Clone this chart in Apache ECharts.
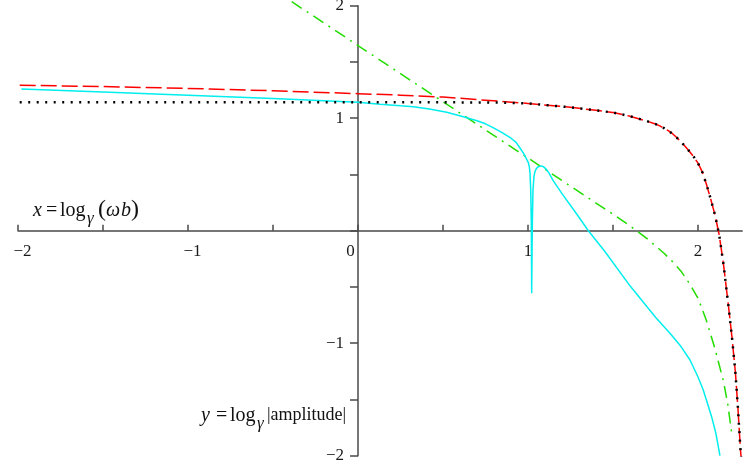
<!DOCTYPE html>
<html>
<head>
<meta charset="utf-8">
<script src="https://cdn.jsdelivr.net/npm/echarts@6/dist/echarts.min.js"></script>
<style>
  html, body { margin: 0; padding: 0; background: #ffffff; }
  #chart { width: 744px; height: 473px; }
</style>
</head>
<body>
<div id="chart"></div>
<script>
// Asymptotic approximation (red, dashed)
const redX = [-1.99, -1.5, -1, -0.5, 0, 0.25, 0.5, 0.75, 1.0, 1.25, 1.4, 1.5, 1.6, 1.7, 1.75, 1.775, 1.8, 1.825, 1.85, 1.875, 1.9, 1.925, 1.95, 1.975, 2.0, 2.025, 2.05, 2.075, 2.1, 2.125, 2.15, 2.18, 2.2, 2.22, 2.235, 2.25, 2.256];
const redY = [1.293, 1.281, 1.265, 1.244, 1.218, 1.205, 1.188, 1.16, 1.131, 1.097, 1.07, 1.05, 1.018, 0.974, 0.948, 0.932, 0.912, 0.889, 0.862, 0.828, 0.79, 0.749, 0.704, 0.657, 0.60, 0.523, 0.41, 0.28, 0.14, -0.04, -0.30, -0.68, -0.95, -1.26, -1.58, -1.95, -2.05];

// Exact envelope (black, dotted)
const blackX = [-1.99, -1, 0, 0.5, 0.75, 0.85, 0.95, 1.0, 1.25, 1.4, 1.5, 1.6, 1.7, 1.75, 1.775, 1.8, 1.825, 1.85, 1.875, 1.9, 1.925, 1.95, 1.975, 2.0, 2.025, 2.05, 2.075, 2.1, 2.125, 2.15, 2.18, 2.2, 2.22, 2.235, 2.25, 2.256];
const blackY = [1.141, 1.141, 1.141, 1.141, 1.140, 1.138, 1.134, 1.131, 1.097, 1.07, 1.05, 1.018, 0.974, 0.948, 0.932, 0.912, 0.889, 0.862, 0.828, 0.79, 0.749, 0.704, 0.657, 0.60, 0.523, 0.41, 0.28, 0.14, -0.04, -0.30, -0.68, -0.95, -1.26, -1.58, -1.95, -2.05];

// Low-frequency slope (green, dash-dot)
const greenX = [-0.39, 0, 0.5, 1.0, 1.5, 1.6, 1.7, 1.8, 1.85, 1.9, 1.95, 2.0, 2.05, 2.1, 2.15, 2.175, 2.2];
const greenY = [2.036, 1.646, 1.146, 0.646, 0.146, 0.043, -0.07, -0.2, -0.275, -0.36, -0.47, -0.6, -0.8, -1.05, -1.34, -1.54, -1.82];

// Measured response (cyan, solid)
const cyanX = [-1.98, -1.5, -1, -0.5, 0, 0.129, 0.25, 0.325, 0.42, 0.522, 0.62, 0.7, 0.75, 0.8, 0.85, 0.9, 0.93, 0.953, 0.973, 0.982, 1.002, 1.008, 1.012, 1.016, 1.0196, 1.0216, 1.0255, 1.0294, 1.035, 1.041, 1.047, 1.057, 1.067, 1.078, 1.09, 1.105, 1.12, 1.15, 1.2, 1.3, 1.355, 1.45, 1.6, 1.75, 1.835, 1.9, 1.953, 2.0, 2.031, 2.08, 2.105, 2.129];
const cyanY = [1.26, 1.232, 1.204, 1.175, 1.142, 1.124, 1.11, 1.102, 1.082, 1.052, 1.013, 0.978, 0.95, 0.912, 0.87, 0.822, 0.785, 0.735, 0.69, 0.665, 0.605, 0.565, 0.51, 0.362, 0.066, -0.557, 0.066, 0.362, 0.48, 0.525, 0.546, 0.566, 0.575, 0.576, 0.569, 0.55, 0.52, 0.44, 0.33, 0.12, 0.0, -0.18, -0.49, -0.77, -0.912, -1.03, -1.149, -1.30, -1.416, -1.653, -1.80, -2.0];

// Axis ticks and labels
const xTickValues = [-2, -1.5, -1, -0.5, 0, 0.5, 1, 1.5, 2];
const xLabelValues = [-2, -1, 0, 1, 2];
const yTickValues = [-2, -1.5, -1, -0.5, 0, 0.5, 1, 1.5, 2];
const yLabelValues = [-2, -1, 1, 2];

const serif = '"Liberation Serif", "Times New Roman", serif';
const axisColor = '#4a4a4a';
const labelColor = '#1a1a1a';
const pair = (xs, ys) => xs.map((x, i) => [x, ys[i]]);
const fmt = v => (v < 0 ? '\u2212' + Math.abs(v) : String(v));

const chart = echarts.init(document.getElementById('chart'), null, { renderer: 'canvas' });

function piece(text, left, y, size, italic) {
  return {
    type: 'text', left: left, top: y, silent: true,
    style: {
      text: text, fill: '#111', font: (italic ? 'italic ' : '') + size + 'px ' + serif
    }
  };
}

chart.setOption({
  animation: false,
  backgroundColor: '#ffffff',
  grid: { left: 18, right: 1.8, top: 5.7, bottom: 17.3, containLabel: false, outerBoundsMode: 'none' },
  xAxis: {
    type: 'value', min: -2, max: 2.26, offset: 0,
    axisLine: { onZero: false, lineStyle: { color: axisColor, width: 1.5 } },
    axisTick: { inside: true, length: 6, customValues: xTickValues, lineStyle: { color: axisColor, width: 1.5 } },
    splitLine: { show: false },
    axisLabel: {
      customValues: xLabelValues, margin: 12, hideOverlap: false,
      fontFamily: serif, fontSize: 17, color: labelColor,
      formatter: v => v < 0 ? '{n|' + fmt(v) + '}' : (v === 0 ? '{z|0}' : String(v)),
      rich: {
        n: { fontFamily: serif, fontSize: 17, color: labelColor, padding: [0, 0, 0, 9] },
        z: { fontFamily: serif, fontSize: 17, color: labelColor, padding: [0, 15, 0, 0] }
      }
    }
  },
  yAxis: {
    type: 'value', min: -2, max: 2, offset: 0,
    axisLine: { onZero: false, lineStyle: { color: axisColor, width: 1.5 } },
    axisTick: { inside: false, length: 8, customValues: yTickValues, lineStyle: { color: axisColor, width: 1.5 } },
    splitLine: { show: false },
    axisLabel: {
      customValues: yLabelValues, margin: 14, hideOverlap: false,
      fontFamily: serif, fontSize: 17, color: labelColor,
      formatter: fmt
    }
  },
  series: [
    {
      type: 'line', data: pair(redX, redY), symbol: 'none', smooth: false,
      lineStyle: { color: '#ff0000', width: 1.5, type: [16, 5] }, z: 2
    },
    {
      type: 'line', data: pair(greenX, greenY), symbol: 'none', smooth: false, clip: false,
      lineStyle: { color: '#22dd00', width: 1.5, type: [12, 6, 2, 6] }, z: 2
    },
    {
      type: 'line', data: pair(cyanX, cyanY), symbol: 'none', smooth: false,
      lineStyle: { color: '#00eeee', width: 1.5 }, z: 3
    },
    {
      type: 'line', data: pair(blackX, blackY), symbol: 'none', smooth: false,
      lineStyle: { color: '#000000', width: 2.5, type: [2, 6.5] }, z: 4
    }
  ],
  graphic: [
    // x = log_γ(ω b)
    piece('x', 33, 201, 20, true),
    piece('=', 46, 201, 20, false),
    piece('log', 60, 201, 20, false),
    piece('\u03B3', 87, 210, 17, true),
    piece('(', 98, 198, 24, false),
    piece('\u03C9', 106, 201, 20, true),
    piece('b', 121, 201, 20, true),
    piece(')', 131, 198, 24, false),
    // y = log_γ|amplitude|
    piece('y', 201, 406, 20, true),
    piece('=', 216, 406, 20, false),
    piece('log', 230, 406, 20, false),
    piece('\u03B3', 257, 415, 17, true),
    piece('|amplitude|', 267, 406, 18, false)
  ]
});

// Move both axes so they cross at the origin, using the grid's own scale.
const origin = chart.convertToPixel({ gridIndex: 0 }, [0, 0]);
const corner = chart.convertToPixel({ gridIndex: 0 }, [-2, -2]);
chart.setOption({
  xAxis: { offset: -(corner[1] - origin[1]) },
  yAxis: { offset: -(origin[0] - corner[0]) }
});
</script>
</body>
</html>
